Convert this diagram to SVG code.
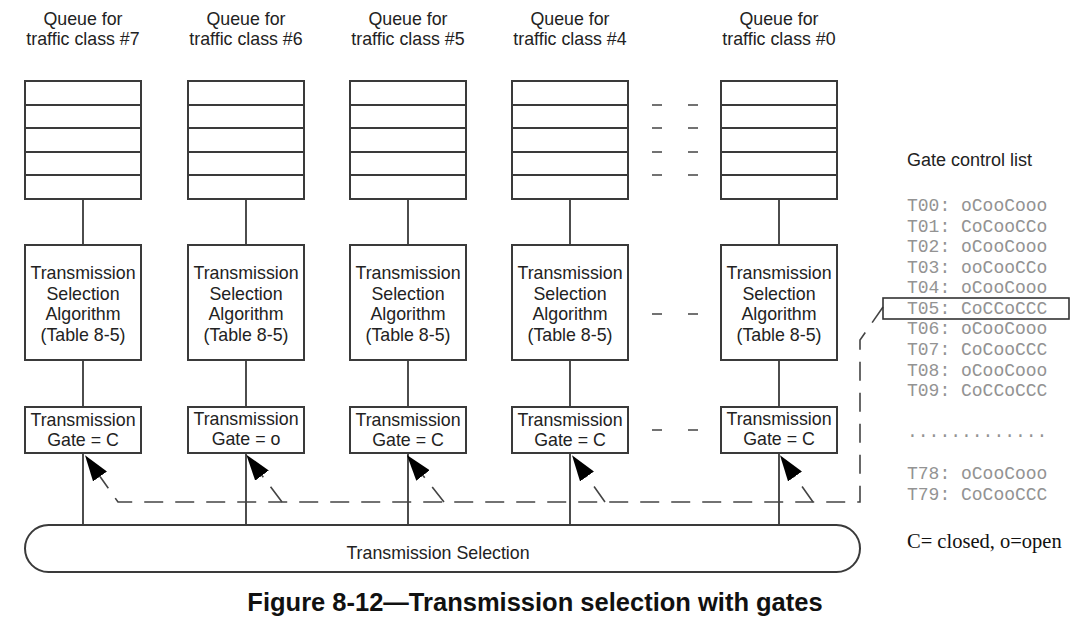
<svg xmlns="http://www.w3.org/2000/svg" width="1080" height="624" viewBox="0 0 1080 624">
<defs>
<style>
.box{fill:#fff;stroke:#3a3a3a;stroke-width:2}
.ln{stroke:#3a3a3a;stroke-width:1.8;fill:none}
.dash{stroke:#444;stroke-width:1.6;fill:none;stroke-dasharray:19 12}
.sp{stroke:#444;stroke-width:1.6;fill:none}
.lbl{font-family:"Liberation Sans",Arial,sans-serif;font-size:17.8px;fill:#222;text-anchor:middle}
.gcl{font-family:"Liberation Mono","Courier New",monospace;font-size:18px;fill:#939393}
</style>
<marker id="ah" viewBox="0 0 26 17" refX="0" refY="8.5" markerWidth="26" markerHeight="17" markerUnits="userSpaceOnUse" orient="auto">
<path d="M0,0 L26,8.5 L0,17 Z" fill="#000"/>
</marker>
<g id="q">
<rect class="box" x="-58" y="81" width="116" height="118"/>
<path class="ln" d="M-58,105 H58 M-58,128 H58 M-58,152 H58 M-58,175 H58"/>
</g>
</defs>
<rect width="1080" height="624" fill="#fff"/>

<g id="connectors">
<path class="ln" d="M83,199 V245 M83,360 V407 M83,453 V525"/>
<path class="ln" d="M246,199 V245 M246,360 V407 M246,453 V525"/>
<path class="ln" d="M408,199 V245 M408,360 V407 M408,453 V525"/>
<path class="ln" d="M570,199 V245 M570,360 V407 M570,453 V525"/>
<path class="ln" d="M779,199 V245 M779,360 V407 M779,453 V525"/>
<path class="dash" d="M883,307 L860,340 L860,502 L118,502 L100,476.5" marker-end="url(#ah)"/>
<path class="dash" d="M282,502 L262,475.5" marker-end="url(#ah)"/>
<path class="dash" d="M444,502 L423,475.5" marker-end="url(#ah)"/>
<path class="dash" d="M605,502 L587,476.5" marker-end="url(#ah)"/>
<path class="dash" d="M813,502 L795,476.5" marker-end="url(#ah)"/>
<path class="sp" d="M652,105 H662 M688,105 H698 M652,128 H662 M688,128 H698 M652,152 H662 M688,152 H698 M652,175 H662 M688,175 H698 M652,314 H662 M688,314 H698 M652,430 H662 M688,430 H698"/>
</g>

<g id="col7">
<text class="lbl" x="83" y="25">Queue for</text>
<text class="lbl" x="83" y="45">traffic class #7</text>
<use href="#q" x="83"/>
<rect class="box" x="25" y="245" width="116" height="115"/>
<text class="lbl" x="83" y="279">Transmission</text>
<text class="lbl" x="83" y="300">Selection</text>
<text class="lbl" x="83" y="320">Algorithm</text>
<text class="lbl" x="83" y="341">(Table 8-5)</text>
<rect class="box" x="25" y="407" width="116" height="46"/>
<text class="lbl" x="83" y="426">Transmission</text>
<text class="lbl" x="83" y="446">Gate = C</text>
</g>

<g id="col6">
<text class="lbl" x="246" y="25">Queue for</text>
<text class="lbl" x="246" y="45">traffic class #6</text>
<use href="#q" x="246"/>
<rect class="box" x="188" y="245" width="116" height="115"/>
<text class="lbl" x="246" y="279">Transmission</text>
<text class="lbl" x="246" y="300">Selection</text>
<text class="lbl" x="246" y="320">Algorithm</text>
<text class="lbl" x="246" y="341">(Table 8-5)</text>
<rect class="box" x="188" y="407" width="116" height="46"/>
<text class="lbl" x="246" y="425">Transmission</text>
<text class="lbl" x="246" y="445">Gate = o</text>
</g>

<g id="col5">
<text class="lbl" x="408" y="25">Queue for</text>
<text class="lbl" x="408" y="45">traffic class #5</text>
<use href="#q" x="408"/>
<rect class="box" x="350" y="245" width="116" height="115"/>
<text class="lbl" x="408" y="279">Transmission</text>
<text class="lbl" x="408" y="300">Selection</text>
<text class="lbl" x="408" y="320">Algorithm</text>
<text class="lbl" x="408" y="341">(Table 8-5)</text>
<rect class="box" x="350" y="407" width="116" height="46"/>
<text class="lbl" x="408" y="426">Transmission</text>
<text class="lbl" x="408" y="446">Gate = C</text>
</g>

<g id="col4">
<text class="lbl" x="570" y="25">Queue for</text>
<text class="lbl" x="570" y="45">traffic class #4</text>
<use href="#q" x="570"/>
<rect class="box" x="512" y="245" width="116" height="115"/>
<text class="lbl" x="570" y="279">Transmission</text>
<text class="lbl" x="570" y="300">Selection</text>
<text class="lbl" x="570" y="320">Algorithm</text>
<text class="lbl" x="570" y="341">(Table 8-5)</text>
<rect class="box" x="512" y="407" width="116" height="46"/>
<text class="lbl" x="570" y="426">Transmission</text>
<text class="lbl" x="570" y="446">Gate = C</text>
</g>

<g id="col0">
<text class="lbl" x="779" y="25">Queue for</text>
<text class="lbl" x="779" y="45">traffic class #0</text>
<use href="#q" x="779"/>
<rect class="box" x="721" y="245" width="116" height="115"/>
<text class="lbl" x="779" y="279">Transmission</text>
<text class="lbl" x="779" y="300">Selection</text>
<text class="lbl" x="779" y="320">Algorithm</text>
<text class="lbl" x="779" y="341">(Table 8-5)</text>
<rect class="box" x="721" y="407" width="116" height="46"/>
<text class="lbl" x="779" y="425">Transmission</text>
<text class="lbl" x="779" y="445">Gate = C</text>
</g>

<g id="selection">
<rect class="box" x="25" y="525" width="835" height="47" rx="23.5" ry="23.5"/>
<text class="lbl" x="438" y="559">Transmission Selection</text>
</g>

<g id="gatelist">
<text x="907" y="166" style="font-family:'Liberation Sans',Arial,sans-serif;font-size:18px;fill:#222">Gate control list</text>
<rect x="883" y="298" width="186" height="21" fill="none" stroke="#333" stroke-width="1.6"/>
<text class="gcl" x="907" y="211">T00: oCooCooo</text>
<text class="gcl" x="907" y="231.6">T01: CoCooCCo</text>
<text class="gcl" x="907" y="252.1">T02: oCooCooo</text>
<text class="gcl" x="907" y="272.7">T03: ooCooCCo</text>
<text class="gcl" x="907" y="293.2">T04: oCooCooo</text>
<text class="gcl" x="907" y="313.8">T05: CoCCoCCC</text>
<text class="gcl" x="907" y="334.4">T06: oCooCooo</text>
<text class="gcl" x="907" y="354.9">T07: CoCooCCC</text>
<text class="gcl" x="907" y="375.5">T08: oCooCooo</text>
<text class="gcl" x="907" y="396">T09: CoCCoCCC</text>
<text class="gcl" x="907" y="437">.............</text>
<text class="gcl" x="907" y="479">T78: oCooCooo</text>
<text class="gcl" x="907" y="499.5">T79: CoCooCCC</text>
<text x="907" y="548" style="font-family:'Liberation Serif','Times New Roman',serif;font-size:20.5px;fill:#111">C= closed, o=open</text>
</g>

<text x="535" y="611" style="font-family:'Liberation Sans',Arial,sans-serif;font-size:25.5px;font-weight:bold;fill:#111;text-anchor:middle">Figure 8-12—Transmission selection with gates</text>
</svg>
